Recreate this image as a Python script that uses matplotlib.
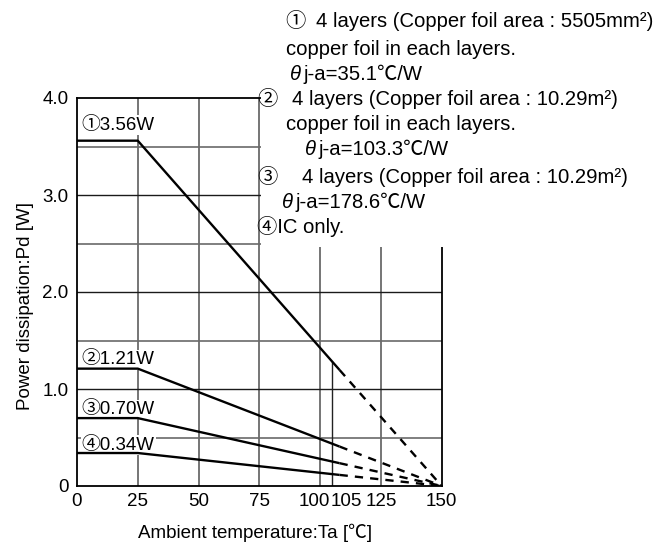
import matplotlib
matplotlib.use("Agg")
import matplotlib.pyplot as plt
import numpy as np
from matplotlib.patches import Rectangle
from matplotlib.transforms import ScaledTranslation

plt.rcParams['font.family'] = ['Liberation Sans', 'Noto Sans CJK JP', 'DejaVu Sans']

# ---- data ----
power_w = [3.56, 1.21, 0.70, 0.34]
point_labels = ['①3.56W', '②1.21W', '③0.70W', '④0.34W']
label_y = [3.72, 1.30, 0.79, 0.42]
knee_temp = 25
tj_max = 150
solid_end_temp = 108
marker_temp = 105
xticks = [0, 25, 50, 75, 100, 105, 125, 150]
xticklabels = ['0', '25', '50', '75', '100', '105', '125', '150']
yticks = [0, 1, 2, 3, 4]
yticklabels = ['0', '1.0', '2.0', '3.0', '4.0']

W, H = 654, 547
fig = plt.figure(figsize=(W / 100, H / 100), dpi=100)
ax = fig.add_axes([77 / W, 1 - 486 / H, (441.7 - 77) / W, (486 - 98) / H])
ax.set_xlim(0, 150)
ax.set_ylim(0, 4.0)

FS = 13.5
FS_NOTE = 14.6
# grid
for gx in [25, 50, 75, 100, 125]:
    ax.axvline(gx, color='#505050', lw=1.1, zorder=1)
for gy in [1.0, 2.0, 3.0]:
    ax.axhline(gy, color='#1a1a1a', lw=1.0, zorder=1)
for gy in [0.5, 1.5, 2.5, 3.5]:
    ax.axhline(gy, color='#6a6a6a', lw=1.2, zorder=1)

# derating curves
for p, lab, ly in zip(power_w, point_labels, label_y):
    xs = [0, knee_temp, tj_max]
    ys = [p, p, 0]
    x_solid = np.array([0, knee_temp, solid_end_temp])
    y_solid = np.interp(x_solid, xs, ys)
    ax.plot(x_solid, y_solid, color='black', lw=1.7, zorder=3, solid_capstyle='butt')
    x_dash = np.array([solid_end_temp, tj_max])
    y_dash = np.interp(x_dash, xs, ys)
    ax.plot(x_dash, y_dash, color='black', lw=1.7, zorder=3, ls=(0, (3.5, 3)))
    ax.text(2, ly, lab, fontsize=FS, va='center', ha='left', zorder=2,
            bbox=dict(facecolor='white', edgecolor='none', pad=1.0))

# marker line at 105 up to curve 1
top105 = np.interp(marker_temp, [0, knee_temp, tj_max], [power_w[0], power_w[0], 0])
ax.plot([marker_temp, marker_temp], [0, top105], color='#222222', lw=1.0, zorder=1)

for s in ax.spines.values():
    s.set_linewidth(1.3)
    s.set_color('black')

ax.set_xticks(xticks)
ax.set_xticklabels(xticklabels)
ax.set_yticks(yticks)
ax.set_yticklabels(yticklabels)
ax.tick_params(length=0, labelsize=FS, pad=5)
ax.tick_params(axis='y', pad=6)
labs = ax.get_xticklabels()
labs[4].set_horizontalalignment('right')
labs[4].set_transform(labs[4].get_transform() + ScaledTranslation(10 / 100, 0, fig.dpi_scale_trans))
labs[5].set_horizontalalignment('left')
labs[5].set_transform(labs[5].get_transform() + ScaledTranslation(-2 / 100, 0, fig.dpi_scale_trans))

fig.text(26 / W, 1 - 306 / H, 'Power dissipation:Pd [W]', rotation=90, fontsize=FS,
         ha='center', va='center')
fig.text(255 / W, 1 - 533 / H, 'Ambient temperature:Ta [℃]', fontsize=FS,
         ha='center', va='center')

# legend-like text block with white background
fig.patches.append(Rectangle((261 / W, 1 - 247 / H), 1, 1, transform=fig.transFigure,
                             facecolor='white', edgecolor='none', zorder=5))

def ft(x, y, s, **kw):
    fig.text(x / W, 1 - y / H, s, fontsize=FS_NOTE, ha='left', va='baseline', zorder=6, **kw)

ft(285, 27, '①')
ft(316, 27, '4 layers (Copper foil area : 5505mm²)')
ft(286, 55, 'copper foil in each layers.')
ft(290, 80, 'θ', style='italic')
ft(303, 80, 'j-a=35.1℃/W')
ft(257, 105, '②')
ft(292, 105, '4 layers (Copper foil area : 10.29m²)')
ft(286, 130, 'copper foil in each layers.')
ft(305, 155, 'θ', style='italic')
ft(318, 155, 'j-a=103.3℃/W')
ft(257, 183, '③')
ft(302, 183, '4 layers (Copper foil area : 10.29m²)')
ft(282, 208, 'θ', style='italic')
ft(295, 208, 'j-a=178.6℃/W')
ft(257, 233, '④IC only.')

fig.savefig('out.png', dpi=100, facecolor='white')
